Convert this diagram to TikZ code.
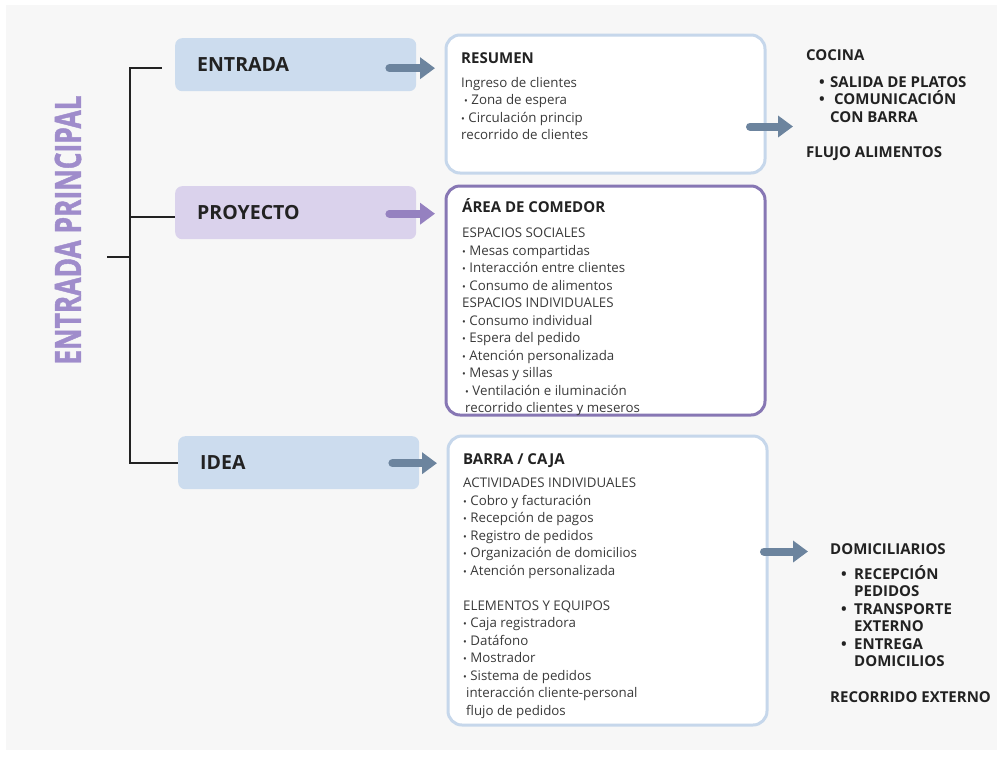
\documentclass[tikz,border=0pt]{standalone}
\usepackage{fontspec}
\usepackage{graphicx}
\setmainfont{Open Sans}
\newfontfamily\gruesa[BoldFeatures={FakeBold=1.5}]{Open Sans}
\usetikzlibrary{arrows.meta}

\definecolor{fondo}{HTML}{F7F7F7}
\definecolor{tinta}{HTML}{222222}
\definecolor{gristxt}{HTML}{3A3A3A}
\definecolor{azulcaja}{HTML}{CCDCEE}
\definecolor{moradocaja}{HTML}{DAD2EC}
\definecolor{azulflecha}{HTML}{6C849E}
\definecolor{moradoflecha}{HTML}{9581C0}
\definecolor{azulborde}{HTML}{C6D7EB}
\definecolor{moradoborde}{HTML}{8777B4}
\definecolor{moradotitulo}{HTML}{9F8CCB}

\newcommand{\pto}{\scalebox{0.75}{\textbullet}\ }
\newcommand{\gpto}[1]{\makebox[#1][l]{\textbullet}}

\tikzset{
  stagebox/.style={fill=#1, rounded corners=7pt, anchor=north west, text width=197pt,
    inner xsep=22pt, inner ysep=0pt, minimum height=53pt, align=left,
    font=\fontsize{19.5}{22}\selectfont\bfseries, text=tinta},
  areabox/.style={draw=#1, line width=3pt, rounded corners=14pt, fill=white,
    anchor=north west, minimum width=319pt, inner sep=0pt},
  flecha/.style={draw=#1, line width=8pt, line cap=round, -{Triangle[length=15pt,width=21pt]}},
  tree/.style={draw=tinta, line width=1.8pt},
  titulotxt/.style={anchor=base west, inner sep=0pt, font=\fontsize{15}{18}\selectfont\bfseries, text=tinta},
  cuerpotxt/.style={anchor=base west, inner sep=0pt, font=\fontsize{13.3}{16}\selectfont, text=gristxt},
  ladotxt/.style={anchor=base west, inner sep=0pt, font=\fontsize{15}{18}\selectfont\bfseries, text=tinta}
}

\begin{document}
\begin{tikzpicture}[x=1pt, y=-1pt]
\useasboundingbox (0,0) rectangle (998,756);
\fill[white] (0,0) rectangle (998,756);
\fill[fondo] (6,5) rectangle (997,750);

\node[rotate=90, inner sep=0pt, font=\fontsize{29}{32}\gruesa\bfseries, text=moradotitulo] (principal) at (68,230)
  {\scalebox{0.91}[1.25]{ENTRADA PRINCIPAL}};

\node[stagebox=azulcaja] (entrada) at (175,38) {ENTRADA};
\node[stagebox=moradocaja] (proyecto) at (175,186) {PROYECTO};
\node[stagebox=azulcaja] (idea) at (178,436) {IDEA};

\coordinate (stem) at (107,257);
\coordinate (trunk) at (130,257);
\draw[tree] (stem) -- (trunk);
\draw[tree] (trunk) |- ([xshift=-13pt,yshift=-3.5pt]entrada.west);
\draw[tree] (trunk) |- ([yshift=-4pt]proyecto.west);
\draw[tree] (trunk) |- (idea.west);

\node[areabox=azulborde, minimum height=138pt] (resumen) at (444.5,33.5) {};
\node[areabox=moradoborde, minimum height=229pt] (comedor) at (444.5,184.5) {};
\node[areabox=azulborde, minimum height=289pt] (barra) at (446.5,434.5) {};

\node[titulotxt] (res-t) at ([xshift=16.5pt,yshift=-29.5pt]resumen.north west) {RESUMEN};
\foreach \t [count=\i, evaluate=\i as \dy using 54+(\i-1)*17.4] in
  {Ingreso de clientes, \hspace*{3pt}\pto Zona de espera, \pto Circulación princip, recorrido de clientes}
  \node[cuerpotxt] (res-\i) at ([xshift=16.5pt,yshift=-\dy pt]resumen.north west) {\t};

\node[titulotxt] (com-t) at ([xshift=17.5pt,yshift=-27.5pt]comedor.north west) {ÁREA DE COMEDOR};
\foreach \t [count=\i, evaluate=\i as \dy using 53.2+(\i-1)*17.5] in
  {ESPACIOS SOCIALES, \pto Mesas compartidas, \pto Interacción entre clientes, \pto Consumo de alimentos,
   ESPACIOS INDIVIDUALES, \pto Consumo individual, \pto Espera del pedido, \pto Atención personalizada,
   \pto Mesas y sillas, \hspace*{3pt}\pto Ventilación e iluminación, \hspace*{3pt}recorrido clientes y meseros}
  \node[cuerpotxt] (com-\i) at ([xshift=17.5pt,yshift=-\dy pt]comedor.north west) {\t};

\node[titulotxt] (bar-t) at ([xshift=16.5pt,yshift=-29.5pt]barra.north west) {BARRA / CAJA};
\foreach \t [count=\i, evaluate=\i as \dy using 53.2+(\i-1)*17.5] in
  {ACTIVIDADES INDIVIDUALES, \pto Cobro y facturación, \pto Recepción de pagos, \pto Registro de pedidos,
   \pto Organización de domicilios, \pto Atención personalizada, {},
   ELEMENTOS Y EQUIPOS, \pto Caja registradora, \pto Datáfono, \pto Mostrador, \pto Sistema de pedidos,
   \hspace*{3pt}interacción cliente-personal, \hspace*{3pt}flujo de pedidos}
  \node[cuerpotxt] (bar-\i) at ([xshift=16.5pt,yshift=-\dy pt]barra.north west) {\t};

\node[ladotxt] (cocina) at (806,60.5) {COCINA};
\node[ladotxt] (coc-1) at (819,87.4) {\gpto{11pt}SALIDA DE PLATOS};
\node[ladotxt] (coc-2) at (819,104.6) {\gpto{15pt}COMUNICACIÓN};
\node[ladotxt] (coc-3) at (830,122.2) {CON BARRA};
\node[ladotxt] (coc-4) at (806,157.4) {FLUJO ALIMENTOS};

\node[ladotxt] (domicilios) at (830,554.4) {DOMICILIARIOS};
\foreach \t [count=\i, evaluate=\i as \yy using 579.4+(\i-1)*17.4] in
  {\gpto{13pt}RECEPCIÓN, \hspace*{13pt}PEDIDOS, \gpto{13pt}TRANSPORTE,
   \hspace*{13pt}EXTERNO, \gpto{13pt}ENTREGA, \hspace*{13pt}DOMICILIOS}
  \node[ladotxt] (dom-\i) at (841,\yy) {\t};
\node[ladotxt] (recorrido) at (830,702) {RECORRIDO EXTERNO};

\draw[flecha=azulflecha, shorten >=9.5pt] ([xshift=-27pt,yshift=-3.5pt]entrada.east) coordinate (a1) -- (resumen.west |- a1);
\draw[flecha=moradoflecha, shorten >=9.5pt] ([xshift=-27pt,yshift=-1pt]proyecto.east) coordinate (a2) -- (comedor.west |- a2);
\draw[flecha=azulflecha, shorten >=9.5pt] ([xshift=-27pt,yshift=-0.5pt]idea.east) coordinate (a3) -- (barra.west |- a3);
\draw[flecha=azulflecha, shorten >=13pt] ([xshift=-16.5pt,yshift=-22.5pt]resumen.east) coordinate (a4) -- (cocina.west |- a4);
\draw[flecha=azulflecha, shorten >=22pt] ([xshift=-4.5pt,yshift=29pt]barra.east) coordinate (a5) -- (domicilios.west |- a5);
\end{tikzpicture}
\end{document}
